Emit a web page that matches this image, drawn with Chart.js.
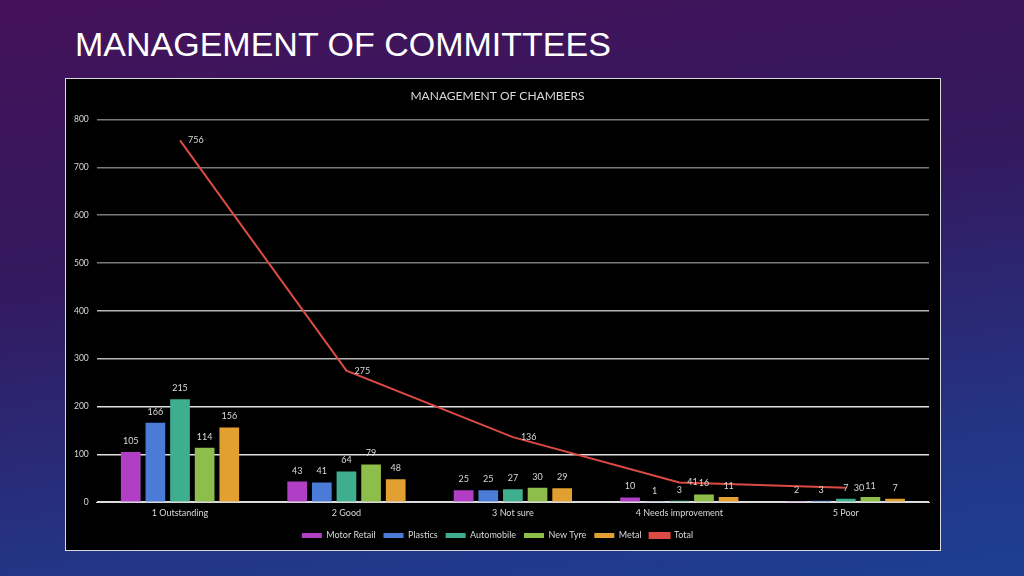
<!DOCTYPE html>
<html>
<head>
<meta charset="utf-8">
<script src="https://cdn.jsdelivr.net/npm/chart.js@4/dist/chart.umd.min.js"></script>
<style>
  html, body { margin: 0; padding: 0; }
  body {
    width: 1024px; height: 576px; overflow: hidden; position: relative;
    background: linear-gradient(172deg, #45125a 0%, #33195f 40%, #233586 80%, #1d3f92 100%);
    font-family: "Liberation Sans", Arial, sans-serif;
  }
  h1 {
    position: absolute; left: 75px; top: 25px; margin: 0;
    color: #fff; font-weight: normal; font-size: 34px;
  }
  #box {
    position: absolute; left: 65px; top: 78px; width: 874px; height: 471px;
    background: #000; border: 1px solid #d9d9d9;
  }
</style>
</head>
<body>
<h1>MANAGEMENT OF COMMITTEES</h1>
<div id="box"><canvas id="chart" width="874" height="471"></canvas></div>
<script>
const categories = ["1 Outstanding", "2 Good", "3 Not sure", "4 Needs improvement", "5 Poor"];
const motorRetail = [105, 43, 25, 10, 2];
const plastics = [166, 41, 25, 1, 3];
const automobile = [215, 64, 27, 3, 7];
const newTyre = [114, 79, 30, 16, 11];
const metal = [156, 48, 29, 11, 7];
const total = [756, 275, 136, 41, 30];
const yTicks = [0, 100, 200, 300, 400, 500, 600, 700, 800];

const font = "Lato, 'Open Sans', sans-serif";

// value labels above bars and beside the line points
const valueLabels = {
    id: "valueLabels",
    afterDatasetsDraw(chart) {
        const ctx = chart.ctx;
        ctx.save();
        ctx.font = "9px " + font;
        ctx.fillStyle = "#d9d9d9";
        ctx.textBaseline = "middle";
        chart.data.datasets.forEach((ds, i) => {
            const meta = chart.getDatasetMeta(i);
            meta.data.forEach((el, j) => {
                const v = ds.data[j];
                if (ds.type === "line") {
                    ctx.textAlign = "left";
                    ctx.fillText(v, el.x + 8, el.y);
                } else {
                    ctx.textAlign = "center";
                    ctx.fillText(v, el.x, el.y - 11);
                }
            });
        });
        ctx.restore();
    },
};

function bar(label, data, color) {
    return {
        type: "bar",
        label: label,
        data: data,
        backgroundColor: color,
        borderWidth: 0,
        categoryPercentage: 0.74,
        barPercentage: 0.8,
        order: 1,
    };
}

new Chart(document.getElementById("chart"), {
    data: {
        labels: categories,
        datasets: [
            bar("Motor Retail", motorRetail, "#b03fc6"),
            bar("Plastics", plastics, "#4a7bd6"),
            bar("Automobile", automobile, "#3fae8f"),
            bar("New Tyre", newTyre, "#8dbd4a"),
            bar("Metal", metal, "#e2a032"),
            {
                type: "line",
                label: "Total",
                data: total,
                borderColor: "#dc4b43",
                backgroundColor: "#dc4b43",
                borderWidth: 2,
                pointRadius: 0,
                tension: 0,
                order: 0,
            },
        ],
    },
    options: {
        responsive: false,
        animation: false,
        layout: { padding: { left: 0, right: 11, top: 4, bottom: 0 } },
        plugins: {
            title: {
                display: true,
                text: "MANAGEMENT OF CHAMBERS",
                color: "#d9d9d9",
                font: { family: font, size: 12, weight: "normal" },
                padding: { top: 6, bottom: 16 },
            },
            legend: {
                position: "bottom",
                labels: {
                    color: "#d9d9d9",
                    font: { family: font, size: 9 },
                    boxWidth: 20,
                    boxHeight: 5,
                    padding: 8,
                    sort: (a, b) => a.datasetIndex - b.datasetIndex,
                },
            },
            tooltip: { enabled: false },
        },
        scales: {
            x: {
                grid: { display: false, drawTicks: false },
                border: { color: "#d9d9d9", width: 1 },
                ticks: { color: "#d9d9d9", font: { family: font, size: 9 }, padding: 5 },
            },
            y: {
                min: 0,
                max: 800,
                afterBuildTicks: (axis) => {
                    axis.ticks = yTicks.map((v) => ({ value: v }));
                },
                border: { display: false },
                grid: {
                    drawTicks: false,
                    lineWidth: 1.5,
                    color: (c) => {
                        const v = c.tick ? c.tick.value : 0;
                        if (v >= 500) return "#7a7a7a";
                        if (v >= 300) return "#b5b5b5";
                        return "#e0e0e0";
                    },
                },
                ticks: { color: "#d9d9d9", font: { family: font, size: 8.5 }, padding: 8 },
            },
        },
    },
    plugins: [valueLabels],
});
</script>
</body>
</html>
